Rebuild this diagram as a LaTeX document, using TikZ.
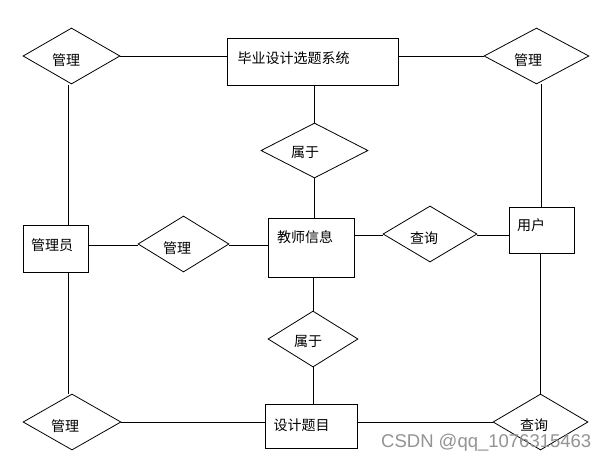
\documentclass[tikz,border=0pt]{standalone}
\usepackage{fontspec}
\setmainfont{Liberation Sans}
\newfontfamily\cjk{Noto Sans CJK SC}
\usetikzlibrary{shapes.geometric}
\begin{document}
\begin{tikzpicture}[x=1pt,y=-1pt,
  box/.style={draw, rectangle, inner sep=0pt, line width=0.8pt},
  dia/.style={draw, diamond, inner sep=0pt, line width=0.8pt},
  lbl/.style={font=\cjk\fontsize{14}{16}\selectfont, inner sep=0pt},
  conn/.style={line width=0.8pt},
  wm/.style={font=\fontsize{18.5}{20}\selectfont, text=black!42, inner sep=0pt, anchor=west}]
\useasboundingbox[fill=white] (0,0) rectangle (604,464);

% entities
\node[box, minimum width=171pt, minimum height=47pt, label={[lbl,xshift=-19pt,yshift=3.5pt]center:毕业设计选题系统}] (sys) at (312.5,61.5) {};
\node[box, minimum width=65pt, minimum height=47pt, label={[lbl,xshift=-3.5pt,yshift=3.5pt]center:管理员}] (adm) at (55.5,248.5) {};
\node[box, minimum width=86pt, minimum height=59pt, label={[lbl,xshift=-6pt,yshift=10.5pt]center:教师信息}] (tea) at (311,247.5) {};
\node[box, minimum width=65pt, minimum height=46pt, label={[lbl,xshift=-10.5pt,yshift=5pt]center:用户}] (usr) at (541.5,230) {};
\node[box, minimum width=92pt, minimum height=44pt, label={[lbl,xshift=-9.5pt,yshift=1pt]center:设计题目}] (top) at (311,426) {};

% relationships
\node[dia, minimum width=97pt, minimum height=56pt, label={[lbl,xshift=-5.5pt,yshift=-4pt]center:管理}] (m1) at (71.5,56) {};
\node[dia, minimum width=105pt, minimum height=56pt, label={[lbl,xshift=-8.5pt,yshift=-4pt]center:管理}] (m2) at (536.5,56) {};
\node[dia, minimum width=91pt, minimum height=56pt, label={[lbl,xshift=-6.5pt,yshift=-4pt]center:管理}] (m3) at (183.5,244) {};
\node[dia, minimum width=94pt, minimum height=56pt, label={[lbl,xshift=-6pt,yshift=-4pt]center:查询}] (q1) at (430,234) {};
\node[dia, minimum width=107pt, minimum height=55pt, label={[lbl,xshift=-9.5pt,yshift=-1.5pt]center:属于}] (b1) at (314.5,150.5) {};
\node[dia, minimum width=90pt, minimum height=56pt, label={[lbl,xshift=-5pt,yshift=-2pt]center:属于}] (b2) at (313,339) {};
\node[dia, minimum width=98pt, minimum height=56pt, label={[lbl,xshift=-7pt,yshift=-4pt]center:管理}] (m4) at (72,422) {};
\node[dia, minimum width=95pt, minimum height=56pt, label={[lbl,xshift=-6.5pt,yshift=-3pt]center:查询}] (q2) at (540.5,422) {};

% connectors
\draw[conn] (m1.east) -- (m1.east -| sys.west);
\draw[conn] (sys.east |- m2.west) -- (m2.west);
\draw[conn] (b1.north |- sys.south) -- (b1.north);
\draw[conn] (b1.south) -- (b1.south |- tea.north);
\draw[conn] (b2.north |- tea.south) -- (b2.north);
\draw[conn] (b2.south) -- (b2.south |- top.north);
\draw[conn] ([xshift=-3.5pt,yshift=-1pt]m1.south) -- ([xshift=-3.5pt]m1.south |- adm.north);
\draw[conn] ([xshift=-4pt]m4.north |- adm.south) -- ([xshift=-4pt]m4.north);
\draw[conn] (m4.east) -- (m4.east -| top.west);
\draw[conn] (top.east |- q2.west) -- (q2.west);
\draw[conn] (q2.north) -- (q2.north |- usr.south);
\draw[conn] (usr.north) -- (usr.north |- m2.south);
\draw[conn] ([yshift=-1pt]adm.east |- m3.west) -- ([yshift=-1pt]m3.west);
\draw[conn] ([yshift=-1pt]m3.east) -- ([yshift=-1pt]m3.east -| tea.west);
\draw[conn] ([yshift=-1pt]q1.west -| tea.east) -- ([yshift=-1pt]q1.west);
\draw[conn] ([yshift=-1pt]q1.east) -- ([yshift=-1pt]q1.east -| usr.west);

% watermark
\node[wm] (wmk) at (381,443) {CSDN @qq\_1076315463};
\end{tikzpicture}
\end{document}
